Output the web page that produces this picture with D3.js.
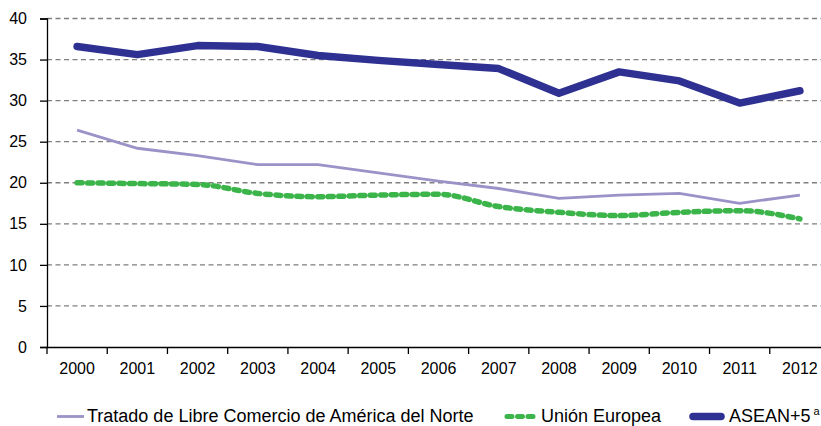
<!DOCTYPE html>
<html><head><meta charset="utf-8">
<script src="https://cdn.jsdelivr.net/npm/d3@7"></script>
<style>body{margin:0;background:#fff}svg{display:block;font-family:"Liberation Sans",Arial,sans-serif}</style>
</head><body><svg id="c" width="821" height="426"></svg>
<script>
const years = ["2000","2001","2002","2003","2004","2005","2006","2007","2008","2009","2010","2011","2012"];
const nafta = [26.4,24.2,23.3,22.2,22.2,21.2,20.2,19.3,18.1,18.5,18.7,17.5,18.5];
const eu = [20.0,19.9,19.8,18.7,18.3,18.5,18.6,17.1,16.4,16.0,16.4,16.6,15.6];
const asean = [36.6,35.6,36.7,36.6,35.5,34.9,34.4,33.9,30.9,33.5,32.4,29.7,31.2];
const yTicks = [0,5,10,15,20,25,30,35,40];
const seriesNames = ["Tratado de Libre Comercio de América del Norte","Unión Europea","ASEAN+5"];

const svg = d3.select("#c");
const L=47, R=830, T=18.5, B=347;
const x = d3.scaleBand().domain(years).range([L,R]);
const y = d3.scaleLinear().domain([0,40]).range([B,T]);

// gridlines
svg.append("g").selectAll("line").data(yTicks.filter(d=>d>0)).join("line")
  .attr("x1",L).attr("x2",R).attr("y1",d=>y(d)).attr("y2",d=>y(d))
  .attr("stroke","#7f7f7f").attr("stroke-width",1.3).attr("stroke-dasharray","5,3.5");

// y axis
const ya = svg.append("g").attr("transform",`translate(${L},0)`)
  .call(d3.axisLeft(y).tickValues(yTicks).tickSize(7).tickPadding(13));
ya.select(".domain").attr("stroke","#000").attr("stroke-width",1.3);
ya.selectAll(".tick line").attr("stroke","#000").attr("stroke-width",1.3);
ya.selectAll("text").attr("font-size",16).attr("fill","#000").attr("font-family","Liberation Sans, Arial, sans-serif");

// x axis
const xa = svg.append("g").attr("transform",`translate(0,${B})`)
  .call(d3.axisBottom(x).tickSize(0).tickPadding(16));
xa.select(".domain").attr("stroke","#000").attr("stroke-width",1.3);
xa.selectAll("text").attr("font-size",16).attr("fill","#000").attr("font-family","Liberation Sans, Arial, sans-serif");
const bounds = years.map(yy=>x(yy)).concat([R]);
svg.append("g").selectAll("line").data(bounds).join("line")
  .attr("x1",d=>d).attr("x2",d=>d).attr("y1",B).attr("y2",B+7)
  .attr("stroke","#000").attr("stroke-width",1.3);

const cx = d => x(d)+x.bandwidth()/2;
const lineStraight = d3.line().x((d,i)=>cx(years[i])).y(d=>y(d));
const lineSmooth = d3.line().x((d,i)=>cx(years[i])).y(d=>y(d)).curve(d3.curveMonotoneX);

svg.append("path").attr("d",lineStraight(nafta)).attr("fill","none")
  .attr("stroke","#9a93c8").attr("stroke-width",2.8);
svg.append("path").attr("d",lineSmooth(eu)).attr("fill","none")
  .attr("stroke","#3bb54a").attr("stroke-width",5.5).attr("stroke-linecap","round")
  .attr("stroke-dasharray","5,5.5");
svg.append("path").attr("d",lineStraight(asean)).attr("fill","none")
  .attr("stroke","#2e3192").attr("stroke-width",7.5).attr("stroke-linecap","round").attr("stroke-linejoin","round");

// legend
const ly = 416.5;
const lg = svg.append("g").attr("font-size",18).attr("fill","#000");
lg.append("line").attr("x1",57).attr("x2",84).attr("y1",ly).attr("y2",ly).attr("stroke","#9a93c8").attr("stroke-width",2.8);
lg.append("text").attr("x",87).attr("y",ly+5.5).text(seriesNames[0]);
lg.append("line").attr("x1",507).attr("x2",534).attr("y1",ly).attr("y2",ly)
  .attr("stroke","#3bb54a").attr("stroke-width",5).attr("stroke-linecap","round").attr("stroke-dasharray","5,5.5");
lg.append("text").attr("x",541).attr("y",ly+5.5).text(seriesNames[1]);
lg.append("line").attr("x1",693).attr("x2",721).attr("y1",ly).attr("y2",ly)
  .attr("stroke","#2e3192").attr("stroke-width",7.5).attr("stroke-linecap","round");
const t3 = lg.append("text").attr("x",729).attr("y",ly+5.5).text(seriesNames[2]);
t3.append("tspan").attr("font-size",11).attr("dx",3).attr("dy",-7).text("a");
</script></body></html>
